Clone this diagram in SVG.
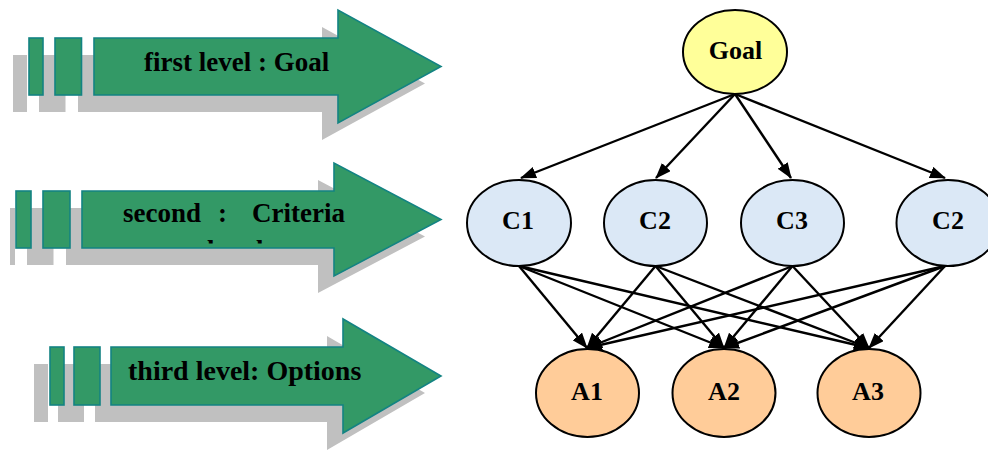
<svg xmlns="http://www.w3.org/2000/svg" width="988" height="450" viewBox="0 0 988 450">
<style>
.sh{fill:#c0c0c0;stroke:none}
.gr{fill:#339966;stroke:#138383;stroke-width:1.6}
.lt{font-family:"Liberation Serif","Times New Roman",serif;font-weight:bold;fill:#000}
.nd{stroke:#000;stroke-width:2}
.nt{font-family:"Liberation Serif","Times New Roman",serif;font-weight:bold;font-size:26px;text-anchor:middle;fill:#000}
.ed{stroke:#000;stroke-width:2.4;fill:none;marker-end:url(#ah)}
</style>
<defs>
<marker id="ah" markerUnits="userSpaceOnUse" markerWidth="17" markerHeight="13" refX="15" refY="6" orient="auto" viewBox="0 0 17 13">
<path d="M0,0 L16,6 L0,12 z" fill="#000"/>
</marker>
<clipPath id="clip2"><rect x="82" y="191" width="252" height="52.5"/></clipPath>
</defs>

<g id="level1">
<rect class="sh" x="13" y="55" width="14" height="57"/>
<rect class="sh" x="39" y="55" width="26.5" height="57"/>
<path class="sh" d="M78,55 H322 V27 L425,83.5 L322,140 V112 H78 Z"/>
<rect class="gr" x="29" y="38" width="14" height="57"/>
<rect class="gr" x="55" y="38" width="26.5" height="57"/>
<path class="gr" d="M94,38 H338 V10 L441,66.5 L338,123 V95 H94 Z"/>
<text class="lt" x="144" y="71" font-size="27">first level : Goal</text>
</g>

<g id="level2">
<rect class="sh" x="10" y="208" width="5" height="57"/>
<rect class="sh" x="27" y="208" width="26.5" height="57"/>
<path class="sh" d="M66,208 H318 V180 L425,236.5 L318,293 V265 H66 Z"/>
<rect class="gr" x="16" y="191" width="15" height="57"/>
<rect class="gr" x="43" y="191" width="27" height="57"/>
<path class="gr" d="M82,191 H334 V163 L441,219.5 L334,276 V248 H82 Z"/>
<text class="lt" y="222" font-size="27"><tspan x="123">second</tspan><tspan x="218">:</tspan><tspan x="252">Criteria</tspan></text>
<text class="lt" x="207" y="258.5" font-size="27" letter-spacing="1" clip-path="url(#clip2)">level</text>
</g>

<g id="level3">
<rect class="sh" x="34" y="364" width="14" height="58"/>
<rect class="sh" x="58" y="364" width="26" height="58"/>
<path class="sh" d="M95,364 H327 V336 L425,393 L327,450 V422 H95 Z"/>
<rect class="gr" x="50" y="347" width="14" height="58"/>
<rect class="gr" x="74" y="347" width="26" height="58"/>
<path class="gr" d="M111,347 H343 V319 L441,376 L343,433 V405 H111 Z"/>
<text class="lt" x="128" y="380" font-size="28">third level: Options</text>
</g>

<g id="connectors">
<line class="ed" x1="735" y1="94" x2="521" y2="178"/>
<line class="ed" x1="735" y1="94" x2="656" y2="178"/>
<line class="ed" x1="735" y1="94" x2="791" y2="178"/>
<line class="ed" x1="735" y1="94" x2="945" y2="178"/>
<line class="ed" x1="519" y1="266" x2="587" y2="348"/>
<line class="ed" x1="519" y1="266" x2="724" y2="348"/>
<line class="ed" x1="519" y1="266" x2="869" y2="348"/>
<line class="ed" x1="655.5" y1="266" x2="587" y2="348"/>
<line class="ed" x1="655.5" y1="266" x2="724" y2="348"/>
<line class="ed" x1="655.5" y1="266" x2="869" y2="348"/>
<line class="ed" x1="792.5" y1="266" x2="587" y2="348"/>
<line class="ed" x1="792.5" y1="266" x2="724" y2="348"/>
<line class="ed" x1="792.5" y1="266" x2="869" y2="348"/>
<line class="ed" x1="945" y1="266" x2="587" y2="348"/>
<line class="ed" x1="945" y1="266" x2="724" y2="348"/>
<line class="ed" x1="945" y1="266" x2="869" y2="348"/>
</g>

<g id="goal">
<ellipse class="nd" cx="735" cy="52" rx="52" ry="42" fill="#ffff99"/>
<text class="nt" x="735.5" y="59" font-size="28">Goal</text>
</g>
<g id="c1">
<ellipse class="nd" cx="519" cy="223" rx="52" ry="43" fill="#dbe8f6"/>
<text class="nt" x="518" y="229">C1</text>
</g>
<g id="c2">
<ellipse class="nd" cx="655.5" cy="223" rx="51.5" ry="43" fill="#dbe8f6"/>
<text class="nt" x="655" y="229">C2</text>
</g>
<g id="c3">
<ellipse class="nd" cx="792.5" cy="223" rx="51.5" ry="43" fill="#dbe8f6"/>
<text class="nt" x="792" y="229">C3</text>
</g>
<g id="c2b">
<ellipse class="nd" cx="948" cy="223" rx="51.5" ry="43" fill="#dbe8f6"/>
<text class="nt" x="948" y="229">C2</text>
</g>
<g id="a1">
<ellipse class="nd" cx="587.5" cy="393" rx="51.5" ry="44" fill="#ffcc99"/>
<text class="nt" x="587" y="400">A1</text>
</g>
<g id="a2">
<ellipse class="nd" cx="724" cy="393" rx="51.5" ry="44" fill="#ffcc99"/>
<text class="nt" x="724" y="400">A2</text>
</g>
<g id="a3">
<ellipse class="nd" cx="869" cy="393" rx="51.5" ry="44" fill="#ffcc99"/>
<text class="nt" x="868" y="400">A3</text>
</g>
</svg>
